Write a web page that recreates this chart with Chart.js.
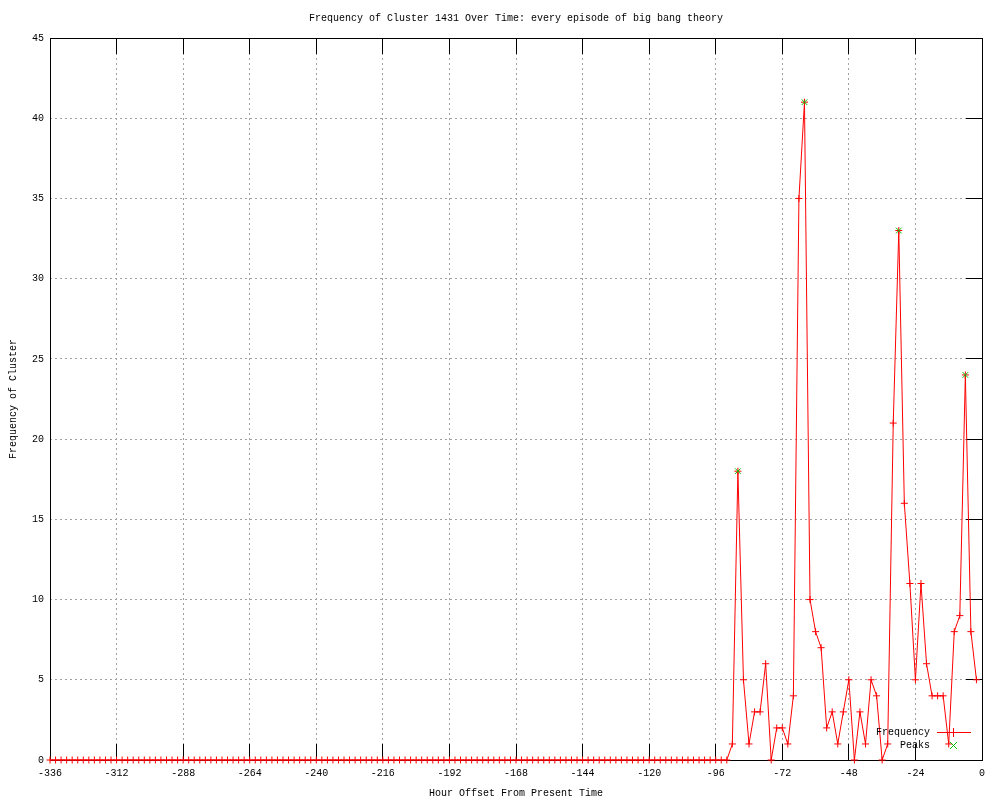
<!DOCTYPE html>
<html>
<head>
<meta charset="utf-8">
<script src="https://cdn.jsdelivr.net/npm/chart.js@4.4.0/dist/chart.umd.min.js"></script>
<style>
  body { margin: 0; background: #fff; }
</style>
</head>
<body>
<canvas id="myChart" width="1000" height="800"></canvas>
<script>
// hour offsets run from -336 in 2 hour steps
const startHour = -336;
const stepHours = 2;

const frequency = [
  0, 0, 0, 0, 0, 0, 0, 0, 0, 0, 0, 0, 0, 0, 0, 0, 0, 0, 0, 0,
  0, 0, 0, 0, 0, 0, 0, 0, 0, 0, 0, 0, 0, 0, 0, 0, 0, 0, 0, 0,
  0, 0, 0, 0, 0, 0, 0, 0, 0, 0, 0, 0, 0, 0, 0, 0, 0, 0, 0, 0,
  0, 0, 0, 0, 0, 0, 0, 0, 0, 0, 0, 0, 0, 0, 0, 0, 0, 0, 0, 0,
  0, 0, 0, 0, 0, 0, 0, 0, 0, 0, 0, 0, 0, 0, 0, 0, 0, 0, 0, 0,
  0, 0, 0, 0, 0, 0, 0, 0, 0, 0, 0, 0, 0, 0, 0, 0, 0, 0, 0, 0,
  0, 0, 0,
  1, 18, 5, 1, 3, 3, 6, 0, 2, 2,
  1, 4, 35, 41, 10, 8, 7, 2, 3, 1,
  3, 5, 0, 3, 1, 5, 4, 0, 1, 21,
  33, 16, 11, 5, 11, 6, 4, 4, 4, 1,
  8, 9, 24, 8, 5
];

const peakHours = [-88, -64, -30, -6];
const peakValues = [18, 41, 33, 24];

const xTicks = { min: -336, max: 0, step: 24 };
const yTicks = { min: 0, max: 45, step: 5 };

const freqPoints = frequency.map((v, i) => ({ x: startHour + i * stepHours, y: v }));
const peakPoints = peakHours.map((h, i) => ({ x: h, y: peakValues[i] }));

const FONT = { family: "'Liberation Mono', 'DejaVu Sans Mono', monospace", size: 10 };
const RED = '#ff0000';
const GREEN = '#00c000';

const snap = p => Math.round(p - 0.5);

// gnuplot style frame: border, inward ticks, and the key
const gnuplotFrame = {
  id: 'gnuplotFrame',
  beforeDatasetsDraw(chart) {
    const { ctx, chartArea: a, scales: { x, y } } = chart;
    const L = snap(a.left), R = snap(a.right), T = snap(a.top), B = snap(a.bottom);
    ctx.save();
    ctx.fillStyle = '#000000';
    x.ticks.forEach(t => {
      const px = snap(x.getPixelForValue(t.value));
      ctx.fillRect(px, B - 16, 1, 16);
      ctx.fillRect(px, T, 1, 16);
    });
    y.ticks.forEach(t => {
      const py = snap(y.getPixelForValue(t.value));
      ctx.fillRect(R - 16, py, 16, 1);
    });
    ctx.fillRect(L, T, R - L + 1, 1);
    ctx.fillRect(L, B, R - L + 1, 1);
    ctx.fillRect(L, T, 1, B - T + 1);
    ctx.fillRect(R, T, 1, B - T + 1);
    ctx.restore();
  },
  afterDatasetsDraw(chart) {
    const { ctx, chartArea: a } = chart;
    const R = snap(a.right), B = snap(a.bottom);
    const textRight = R - 52;
    const row1 = B - 28;
    const row2 = B - 15;
    const mid = R - 29;
    ctx.save();
    ctx.font = FONT.size + 'px ' + FONT.family;
    ctx.fillStyle = '#000000';
    ctx.textAlign = 'right';
    ctx.textBaseline = 'middle';
    ctx.fillText('Frequency', textRight, row1);
    ctx.fillText('Peaks', textRight, row2);
    ctx.fillStyle = RED;
    ctx.fillRect(R - 45, row1, 34, 1);
    ctx.fillRect(mid, row1 - 4, 1, 9);
    ctx.fillRect(mid - 4, row1, 9, 1);
    ctx.setLineDash([]);
    ctx.lineWidth = 1;
    ctx.strokeStyle = GREEN;
    ctx.beginPath();
    ctx.moveTo(mid - 3, row2 - 3);
    ctx.lineTo(mid + 4, row2 + 4);
    ctx.moveTo(mid + 4, row2 - 3);
    ctx.lineTo(mid - 3, row2 + 4);
    ctx.stroke();
    ctx.restore();
  }
};

const data = {
  datasets: [{
    label: 'Frequency',
    data: freqPoints,
    borderColor: RED,
    backgroundColor: RED,
    borderWidth: 1,
    pointStyle: 'cross',
    pointRadius: 3.5,
    pointBorderWidth: 1,
    tension: 0,
    clip: false,
    order: 2
  }, {
    label: 'Peaks',
    data: peakPoints,
    showLine: false,
    borderColor: GREEN,
    backgroundColor: GREEN,
    pointStyle: 'crossRot',
    pointRadius: 4,
    pointBorderWidth: 1,
    clip: false,
    order: 1
  }]
};

const config = {
  type: 'line',
  data: data,
  plugins: [gnuplotFrame],
  options: {
    responsive: false,
    animation: false,
    devicePixelRatio: 1,
    layout: { padding: { left: 0, right: 18, top: 0, bottom: 0 } },
    plugins: {
      legend: { display: false },
      tooltip: { enabled: false },
      title: {
        display: true,
        fullSize: false,
        text: 'Frequency of Cluster 1431 Over Time: every episode of big bang theory',
        color: '#000',
        font: { family: FONT.family, size: FONT.size, weight: 'normal' },
        padding: { top: 12, bottom: 14 }
      }
    },
    scales: {
      x: {
        type: 'linear',
        min: xTicks.min,
        max: xTicks.max,
        grid: { color: '#a0a0a0', drawTicks: false },
        border: { display: false, dash: [2, 3] },
        ticks: {
          stepSize: xTicks.step,
          color: '#000',
          font: FONT,
          padding: 7,
          maxRotation: 0,
          autoSkip: false,
          callback: v => String(v)
        },
        title: {
          display: true,
          text: 'Hour Offset From Present Time',
          color: '#000',
          font: FONT,
          padding: { top: 0, bottom: 1 }
        },
        afterFit: s => { s.height = 40; }
      },
      y: {
        min: yTicks.min,
        max: yTicks.max,
        grid: { color: '#a0a0a0', drawTicks: false },
        border: { display: false, dash: [2, 3] },
        ticks: {
          stepSize: yTicks.step,
          color: '#000',
          font: FONT,
          padding: 6,
          callback: v => String(v)
        },
        title: {
          display: true,
          text: 'Frequency of Cluster',
          color: '#000',
          font: FONT,
          padding: { top: 7, bottom: 0 }
        },
        afterFit: s => { s.width = 50; }
      }
    }
  }
};

const myChart = new Chart(document.getElementById('myChart'), config);
</script>
</body>
</html>
